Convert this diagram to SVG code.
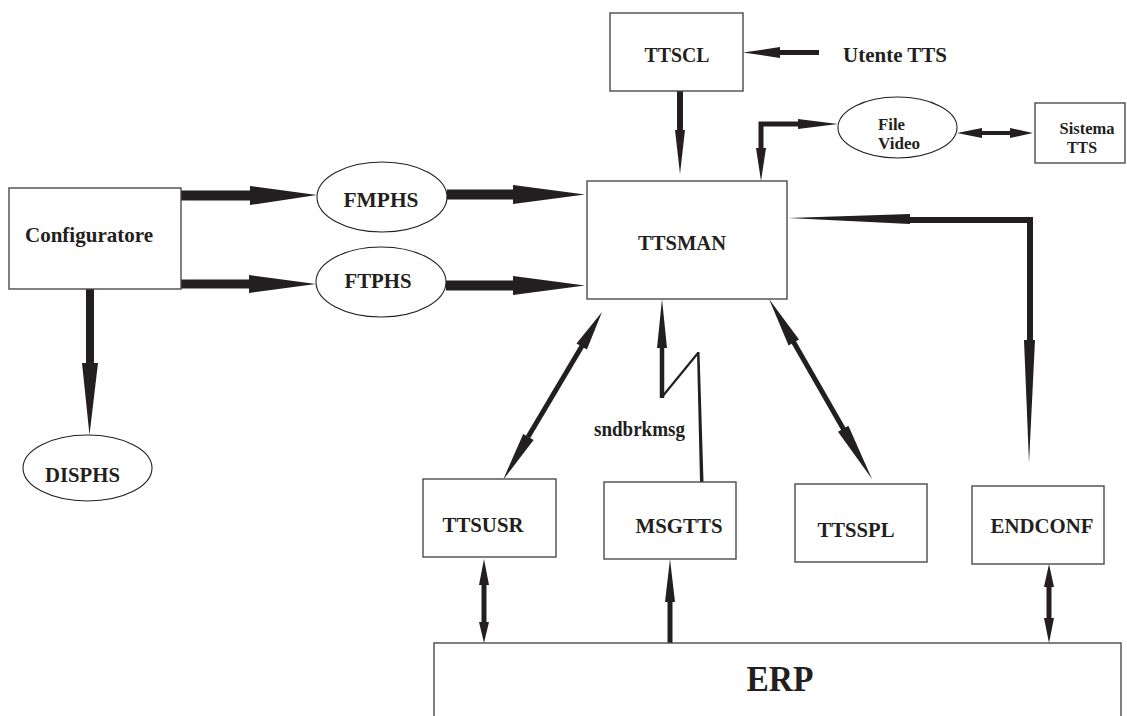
<svg xmlns="http://www.w3.org/2000/svg" width="1127" height="716" viewBox="0 0 1127 716">
<style>
.box{fill:#fff;stroke:#4a4a4a;stroke-width:1.4}
.ell{fill:#fff;stroke:#231f20;stroke-width:1.1}
.t{font-family:"Liberation Serif","Times New Roman",serif;font-weight:bold;fill:#231f20}
.sh{stroke:#231f20;fill:none}
.hd{fill:#231f20;stroke:none}
</style>
<rect width="1127" height="716" fill="#fff"/>
<g id="connectors">
  <line class="sh" x1="819" y1="52.5" x2="778" y2="52.5" stroke-width="5"/>
  <polygon class="hd" points="780,47 743,52.5 780,58"/>
  <line class="sh" x1="680" y1="91" x2="680" y2="132" stroke-width="6"/>
  <polygon class="hd" points="675,130 680,174 685,130"/>
  <path class="sh" d="M761,150 L761,124 L800,124" stroke-width="5"/>
  <polygon class="hd" points="756,148 761,181 766,148"/>
  <polygon class="hd" points="798,119 838,124 798,129"/>
  <line class="sh" x1="980" y1="133" x2="1012" y2="133" stroke-width="4"/>
  <polygon class="hd" points="982,128 957,133 982,138"/>
  <polygon class="hd" points="1010,128 1033,133 1010,138"/>
  <line class="sh" x1="181" y1="195.5" x2="252" y2="195.5" stroke-width="10"/>
  <polygon class="hd" points="250,186 317,195 250,205"/>
  <line class="sh" x1="181" y1="284" x2="251" y2="284" stroke-width="9"/>
  <polygon class="hd" points="249,275 316,284 249,293"/>
  <line class="sh" x1="447" y1="194.5" x2="515" y2="194.5" stroke-width="10"/>
  <polygon class="hd" points="513,185 585,194.5 513,204"/>
  <line class="sh" x1="446" y1="285.5" x2="515" y2="285.5" stroke-width="10"/>
  <polygon class="hd" points="513,276 585,285.5 513,295"/>
  <line class="sh" x1="90" y1="289" x2="90" y2="365" stroke-width="8"/>
  <polygon class="hd" points="82,363 89.5,435 98,363"/>
  <line class="sh" x1="582" y1="346" x2="528" y2="437" stroke-width="5"/>
  <polygon class="hd" points="602,312 586.9,349.5 576.5,343.4"/>
  <polygon class="hd" points="503,480 533.6,439.9 523.2,433.9"/>
  <line class="sh" x1="662" y1="346" x2="662" y2="398" stroke-width="4.5"/>
  <polygon class="hd" points="657,348 662,299 667,348"/>
  <polyline class="sh" points="662,397 698,353" stroke-width="2.2"/>
  <polygon class="hd" points="697,352 699.5,352 703.5,482 700,482"/>
  <line class="sh" x1="793" y1="341" x2="844" y2="430" stroke-width="5"/>
  <polygon class="hd" points="769,299 799,339.4 788.6,345.4"/>
  <polygon class="hd" points="872,479 848.4,425.7 838,431.7"/>
  <path class="sh" d="M1030,342 L1030,220 L908,220" stroke-width="6" stroke-linejoin="miter"/>
  <polygon class="hd" points="910,214 788,218 910,224"/>
  <polygon class="hd" points="1024,340 1029,463 1035,340"/>
  <line class="sh" x1="484" y1="583" x2="484" y2="624" stroke-width="5"/>
  <polygon class="hd" points="479,585 484,559 489,585"/>
  <polygon class="hd" points="479,622 484,643 489,622"/>
  <line class="sh" x1="670" y1="600" x2="670" y2="643" stroke-width="5"/>
  <polygon class="hd" points="665,602 670,559 675,602"/>
  <line class="sh" x1="1049" y1="585" x2="1049" y2="620" stroke-width="5"/>
  <polygon class="hd" points="1044,587 1049,564 1054,587"/>
  <polygon class="hd" points="1044,618 1049,643 1054,618"/>
</g>
<g id="TTSCL">
  <rect class="box" x="610" y="13" width="133" height="78"/>
  <text class="t" x="677" y="62" font-size="22" text-anchor="middle" textLength="65" lengthAdjust="spacingAndGlyphs">TTSCL</text>
</g>
<g id="UtenteTTS">
  <text class="t" x="843" y="62" font-size="22" textLength="104" lengthAdjust="spacingAndGlyphs">Utente TTS</text>
</g>
<g id="FileVideo">
  <ellipse class="ell" cx="897.5" cy="127.5" rx="59.5" ry="30.5"/>
  <text class="t" x="878" y="130" font-size="17" textLength="27" lengthAdjust="spacingAndGlyphs">File</text>
  <text class="t" x="878" y="149" font-size="17" textLength="42" lengthAdjust="spacingAndGlyphs">Video</text>
</g>
<g id="SistemaTTS">
  <rect class="box" x="1035" y="103" width="90" height="60"/>
  <text class="t" x="1087" y="134" font-size="17" text-anchor="middle" textLength="55" lengthAdjust="spacingAndGlyphs">Sistema</text>
  <text class="t" x="1082" y="153" font-size="17" text-anchor="middle" textLength="30" lengthAdjust="spacingAndGlyphs">TTS</text>
</g>
<g id="TTSMAN">
  <rect class="box" x="587" y="181" width="200" height="118"/>
  <text class="t" x="682" y="250" font-size="22" text-anchor="middle" textLength="88" lengthAdjust="spacingAndGlyphs">TTSMAN</text>
</g>
<g id="Configuratore">
  <rect class="box" x="9" y="188" width="172" height="101"/>
  <text class="t" x="89" y="242" font-size="22" text-anchor="middle" textLength="128" lengthAdjust="spacingAndGlyphs">Configuratore</text>
</g>
<g id="FMPHS">
  <ellipse class="ell" cx="382" cy="197" rx="65" ry="35"/>
  <text class="t" x="381" y="207" font-size="22" text-anchor="middle" textLength="75" lengthAdjust="spacingAndGlyphs">FMPHS</text>
</g>
<g id="FTPHS">
  <ellipse class="ell" cx="381" cy="282" rx="65" ry="35"/>
  <text class="t" x="378" y="288" font-size="22" text-anchor="middle" textLength="67" lengthAdjust="spacingAndGlyphs">FTPHS</text>
</g>
<g id="DISPHS">
  <ellipse class="ell" cx="87.5" cy="468" rx="64.5" ry="33"/>
  <text class="t" x="82.5" y="482" font-size="22" text-anchor="middle" textLength="75" lengthAdjust="spacingAndGlyphs">DISPHS</text>
</g>
<g id="sndbrkmsg">
  <text class="t" x="594" y="436" font-size="20" textLength="91" lengthAdjust="spacingAndGlyphs">sndbrkmsg</text>
</g>
<g id="TTSUSR">
  <rect class="box" x="423" y="479" width="133" height="78"/>
  <text class="t" x="483" y="532" font-size="22" text-anchor="middle" textLength="81" lengthAdjust="spacingAndGlyphs">TTSUSR</text>
</g>
<g id="MSGTTS">
  <rect class="box" x="604" y="482" width="132" height="77"/>
  <text class="t" x="679" y="533" font-size="22" text-anchor="middle" textLength="87" lengthAdjust="spacingAndGlyphs">MSGTTS</text>
</g>
<g id="TTSSPL">
  <rect class="box" x="795" y="484" width="132" height="78"/>
  <text class="t" x="856" y="537" font-size="22" text-anchor="middle" textLength="77" lengthAdjust="spacingAndGlyphs">TTSSPL</text>
</g>
<g id="ENDCONF">
  <rect class="box" x="972" y="486" width="132" height="78"/>
  <text class="t" x="1042" y="533" font-size="22" text-anchor="middle" textLength="103" lengthAdjust="spacingAndGlyphs">ENDCONF</text>
</g>
<g id="ERP">
  <rect class="box" x="434" y="643" width="687" height="90"/>
  <text class="t" x="780" y="691" font-size="36" text-anchor="middle" textLength="67" lengthAdjust="spacingAndGlyphs">ERP</text>
</g>
</svg>
